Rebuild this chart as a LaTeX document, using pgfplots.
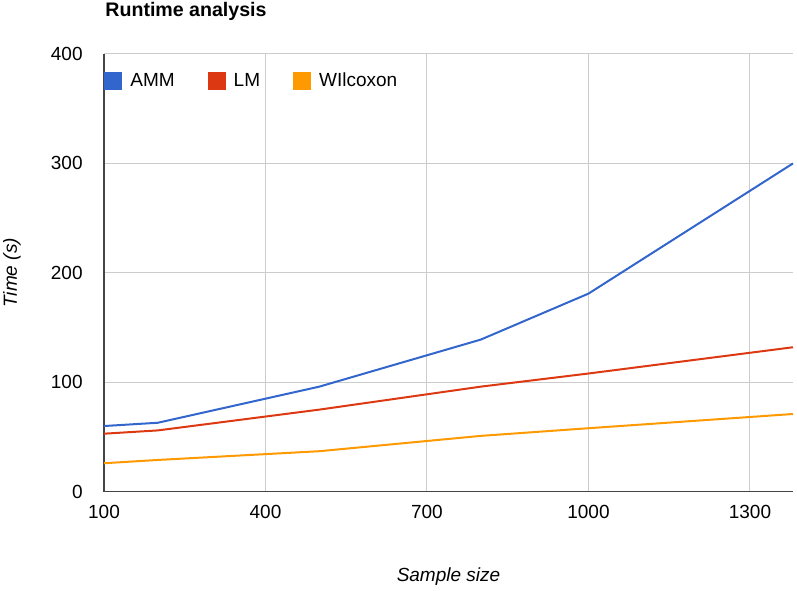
\documentclass[border=0pt]{standalone}
\usepackage{pgfplots}
\pgfplotsset{compat=1.18}
\usepackage{fontspec}
\setmainfont{Liberation Sans}

\definecolor{gblue}{HTML}{3366CC}
\definecolor{gred}{HTML}{DC3912}
\definecolor{gorange}{HTML}{FF9900}
\definecolor{ggrid}{HTML}{CCCCCC}
\definecolor{gaxis}{HTML}{444444}

% sample size vs runtime (s)
\pgfplotstableread{
n    amm  lm   wil
100  60   53   26
200  63   56   29
500  96   75   37
800  139  96   51
1000 181  108  58
1380 300  132  71
}\runtimes

\begin{document}
\begin{tikzpicture}
\begin{axis}[
  scale only axis,
  width=344.5pt,
  height=218.85pt,
  xmin=100, xmax=1380,
  ymin=0, ymax=400,
  xtick={100,400,700,1000,1300},
  ytick={0,100,200,300,400},
  axis x line*=bottom,
  axis y line*=left,
  axis line style={gaxis, line width=0.8pt, -},
  major tick length=0pt,
  grid=major,
  major grid style={ggrid, line width=0.5pt},
  font=\fontsize{9.5}{11}\selectfont,
  /pgf/number format/assume math mode=true,
  /pgf/number format/set thousands separator={},
  xticklabel style={anchor=north, inner sep=0pt, yshift=-6.5pt},
  yticklabel style={anchor=east, inner sep=0pt, xshift=-10.5pt},
  xlabel={\itshape Sample size},
  ylabel={\itshape Time (s)},
  xlabel style={at={(axis description cs:0.5,-0.195)}, anchor=center, inner sep=0pt},
  ylabel style={at={(axis description cs:-0.1335,0.5)}, anchor=center, inner sep=0pt},
  legend columns=3,
  legend style={
    at={(rel axis cs:0,1)}, anchor=north west,
    yshift=-9pt,
    draw=none, fill=none,
    inner sep=0pt,
    font=\fontsize{9.5}{11}\selectfont,
    nodes={inner sep=0pt, anchor=west},
    /tikz/every odd column/.append style={column sep=4pt},
    /tikz/every even column/.append style={column sep=16.5pt},
  },
  legend image code/.code={\fill[#1, draw=none] (0pt,-4.5pt) rectangle (9pt,4.5pt);},
  clip=false,
]
\addplot[gblue, line width=1pt] table[x=n, y=amm] {\runtimes};
\addplot[gred, line width=1pt] table[x=n, y=lm] {\runtimes};
\addplot[gorange, line width=1pt] table[x=n, y=wil] {\runtimes};
\legend{AMM, LM, WIlcoxon}
\node[anchor=base west, inner sep=0pt, font=\fontsize{9.8}{11}\selectfont\bfseries]
  at (rel axis cs:0,1) [xshift=0.5pt, yshift=18.5pt] {Runtime analysis};
\coordinate (sw) at (rel axis cs:0,0);
\coordinate (ne) at (rel axis cs:1,1);
\end{axis}
\path (sw) ++(-52pt,-49.65pt) coordinate (bba);
\path (ne) ++(2pt,27pt) coordinate (bbb);
\path (bba) rectangle (bbb);
\end{tikzpicture}
\end{document}
